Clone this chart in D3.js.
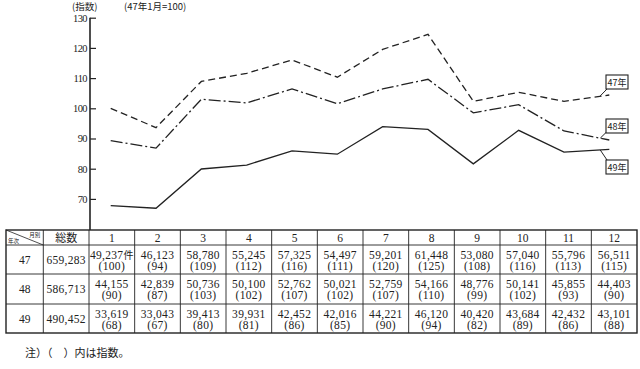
<!DOCTYPE html>
<html><head><meta charset="utf-8">
<script src="https://cdn.jsdelivr.net/npm/d3@7"></script>
<style>
html,body{margin:0;padding:0;background:#fff;}
svg{display:block;}
</style>
</head><body>
<svg id="c" width="640" height="369"></svg>
<script>
// ---- data ----
const months = [1,2,3,4,5,6,7,8,9,10,11,12];
const monthLabels = ["1","2","3","4","5","6","7","8","9","10","11","12"];
const yTicks = [70,80,90,100,110,120,130];
const seriesNames = ["47年","48年","49年"];
// index values as plotted in the chart (47年1月=100)
const line47 = [100,93.6,108.9,111.6,116,110.3,119.5,124.5,102.3,105.3,102.3,104.4];
const line48 = [89.3,86.8,103,101.8,106.4,101.5,106.4,109.6,98.5,101.2,92.5,89.5];
const line49 = [67.8,66.9,79.9,81.2,85.9,84.8,93.9,93.0,81.6,92.7,85.5,86.4];
// table
const years = ["47","48","49"];
const totals = ["659,283","586,713","490,452"];
const counts47 = ["49,237件","46,123","58,780","55,245","57,325","54,497","59,201","61,448","53,080","57,040","55,796","56,511"];
const index47 = [100,94,109,112,116,111,120,125,108,116,113,115];
const counts48 = ["44,155","42,839","50,736","50,100","52,762","50,021","52,759","54,166","48,776","50,141","45,855","44,403"];
const index48 = [90,87,103,102,107,102,107,110,99,102,93,90];
const counts49 = ["33,619","33,043","39,413","39,931","42,452","42,016","44,221","46,120","40,420","43,684","42,432","43,101"];
const index49 = [68,67,80,81,86,85,90,94,82,89,86,88];

// ---- chart ----
const svg = d3.select("#c");
const ink = "#222";
const numFont = "'Liberation Serif', serif";
const cjkFont = "'Noto Sans CJK JP', sans-serif";

const x = d3.scaleLinear().domain([1,12]).range([110.7,609.3]);
const y = d3.scaleLinear().domain([70,130]).range([198.9,17.7]);

// title texts
svg.append("text").attr("x",72).attr("y",10).attr("font-family",cjkFont).attr("font-size",9.5)
  .attr("fill",ink).text("(指数)");
svg.append("text").attr("x",124).attr("y",10).attr("font-family",cjkFont).attr("font-size",9.5)
  .attr("fill",ink).text("(47年1月=100)");

// y axis
const axisG = svg.append("g").attr("transform","translate(90,0)")
  .call(d3.axisLeft(y).tickValues(yTicks).tickSizeInner(-6).tickSizeOuter(0).tickPadding(3));
axisG.select(".domain").remove();
axisG.selectAll(".tick line").attr("stroke",ink).attr("stroke-width",1.2);
axisG.selectAll(".tick text").attr("font-family",numFont).attr("font-size",10.5)
  .attr("fill",ink).attr("letter-spacing",-0.6);
svg.append("line").attr("x1",90).attr("x2",90).attr("y1",y(130)).attr("y2",230)
  .attr("stroke",ink).attr("stroke-width",1.6);

// lines
const lineGen = d3.line().x((d,i)=>x(months[i])).y(d=>y(d));
const styles = [
  {data:line47, dash:"7,4"},
  {data:line48, dash:"12,3,2,3"},
  {data:line49, dash:null}
];
styles.forEach(s=>{
  const p = svg.append("path").datum(s.data).attr("d",lineGen)
    .attr("fill","none").attr("stroke",ink).attr("stroke-width",1.3);
  if(s.dash) p.attr("stroke-dasharray",s.dash);
});

// series labels with leader lines
const labelBoxes = [
  {name:seriesNames[0], bx:606, by:75, lx1:x(11.8), ly1:y(104.1), lx2:607, ly2:89},
  {name:seriesNames[1], bx:606, by:119, lx1:x(11.8), ly1:y(90.1), lx2:606.5, ly2:132},
  {name:seriesNames[2], bx:606, by:160, lx1:x(11.8), ly1:y(86.2), lx2:607, ly2:160}
];
labelBoxes.forEach(b=>{
  svg.append("line").attr("x1",b.lx1).attr("y1",b.ly1).attr("x2",b.lx2).attr("y2",b.ly2)
    .attr("stroke",ink).attr("stroke-width",1);
  svg.append("rect").attr("x",b.bx).attr("y",b.by).attr("width",22).attr("height",14)
    .attr("fill","#fff").attr("stroke",ink).attr("stroke-width",1.1);
  svg.append("text").attr("x",b.bx+11).attr("y",b.by+10.5).attr("text-anchor","middle")
    .attr("font-family",cjkFont).attr("font-size",9).attr("fill",ink).text(b.name);
});

// ---- table ----
const tLeft = 6, c1 = 43.3, c2 = 89, tRight = 637;
const colX = d3.scaleLinear().domain([0,12]).range([c2,tRight]);
const rowEdges = [230,245,274,304,333];
const tg = svg.append("g");

// grid
rowEdges.slice(1,-1).forEach(yy=>{
  tg.append("line").attr("x1",tLeft).attr("x2",tRight).attr("y1",yy).attr("y2",yy)
    .attr("stroke",ink).attr("stroke-width",0.9);
});
[c1, ...d3.range(0,12).map(i=>colX(i))].forEach(xx=>{
  tg.append("line").attr("x1",xx).attr("x2",xx).attr("y1",rowEdges[0]).attr("y2",rowEdges[4])
    .attr("stroke",ink).attr("stroke-width",0.9);
});
tg.append("rect").attr("x",tLeft).attr("y",rowEdges[0]).attr("width",tRight-tLeft)
  .attr("height",rowEdges[4]-rowEdges[0]).attr("fill","none").attr("stroke",ink).attr("stroke-width",1.4);

// header
tg.append("line").attr("x1",tLeft).attr("y1",rowEdges[0]).attr("x2",c1).attr("y2",rowEdges[1])
  .attr("stroke",ink).attr("stroke-width",0.8);
tg.append("text").attr("x",c1-3).attr("y",rowEdges[0]+6.5).attr("text-anchor","end")
  .attr("font-family",cjkFont).attr("font-size",5.5).attr("fill",ink).text("月別");
tg.append("text").attr("x",tLeft+2).attr("y",rowEdges[1]-2).attr("text-anchor","start")
  .attr("font-family",cjkFont).attr("font-size",5.5).attr("fill",ink).text("年次");
tg.append("text").attr("x",(c1+c2)/2).attr("y",(rowEdges[0]+rowEdges[1])/2+4).attr("text-anchor","middle")
  .attr("font-family",cjkFont).attr("font-size",11).attr("fill",ink).text("総数");
monthLabels.forEach((m,i)=>{
  tg.append("text").attr("x",(colX(i)+colX(i+1))/2).attr("y",(rowEdges[0]+rowEdges[1])/2+4)
    .attr("text-anchor","middle").attr("font-family",numFont).attr("font-size",11.5)
    .attr("fill",ink).text(m);
});

const rows = [
  {year:years[0], total:totals[0], counts:counts47, idx:index47},
  {year:years[1], total:totals[1], counts:counts48, idx:index48},
  {year:years[2], total:totals[2], counts:counts49, idx:index49}
];
rows.forEach((r,ri)=>{
  const top = rowEdges[ri+1], bot = rowEdges[ri+2], mid=(top+bot)/2;
  tg.append("text").attr("x",(tLeft+c1)/2).attr("y",mid+4).attr("text-anchor","middle")
    .attr("font-family",numFont).attr("font-size",11.5).attr("fill",ink).text(r.year);
  tg.append("text").attr("x",(c1+c2)/2).attr("y",mid+4).attr("text-anchor","middle")
    .attr("font-family",numFont).attr("font-size",11.5).attr("fill",ink).attr("letter-spacing",0.3).text(r.total);
  r.counts.forEach((cnt,i)=>{
    const cx=(colX(i)+colX(i+1))/2;
    const t = tg.append("text").attr("x",cx).attr("y",top+14).attr("text-anchor","middle")
      .attr("font-family",numFont).attr("font-size",11.5).attr("fill",ink).attr("letter-spacing",0.3);
    if(cnt.endsWith("件")){
      t.append("tspan").text(cnt.slice(0,-1));
      t.append("tspan").attr("font-family",cjkFont).attr("font-size",10).text("件");
    } else t.text(cnt);
    tg.append("text").attr("x",cx).attr("y",top+25).attr("text-anchor","middle")
      .attr("font-family",numFont).attr("font-size",11.5).attr("fill",ink).attr("letter-spacing",0.3)
      .text("(" + r.idx[i] + ")");
  });
});

// note
svg.append("text").attr("x",25).attr("y",357).attr("font-family",cjkFont).attr("font-size",11)
  .attr("fill",ink).text("注）（　）内は指数。");
</script>
</body></html>
